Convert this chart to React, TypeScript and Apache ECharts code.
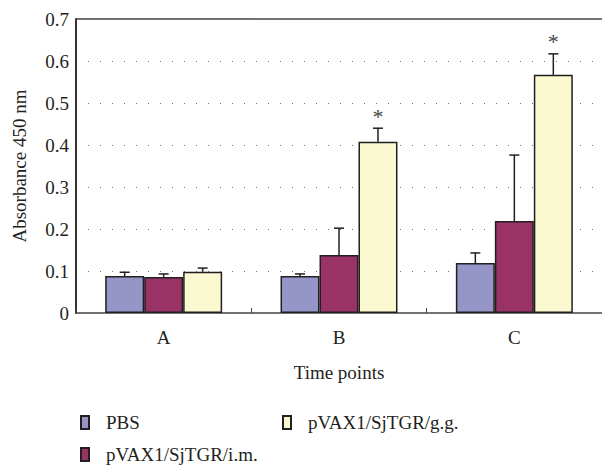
import React, { useEffect, useRef } from "react";
import * as echarts from "echarts";

const categories = ["A", "B", "C"];
const seriesNames = ["PBS", "pVAX1/SjTGR/i.m.", "pVAX1/SjTGR/g.g."];
const pbsValues = [0.088, 0.088, 0.119];
const imValues = [0.086, 0.138, 0.219];
const ggValues = [0.098, 0.408, 0.567];
const pbsErrTop = [0.097, 0.093, 0.143];
const imErrTop = [0.093, 0.202, 0.376];
const ggErrTop = [0.107, 0.44, 0.617];
const ggStars = ["", "*", "*"];
const yTicks = [0, 0.1, 0.2, 0.3, 0.4, 0.5, 0.6, 0.7];

const colors = ["#9595c8", "#993366", "#fbf9d0"];
const FONT = "Liberation Serif";
const INK = "#231f20";
const FS = 19;

export default function App() {
  const ref = useRef<HTMLDivElement>(null);
  useEffect(() => {
    const chart = echarts.init(ref.current!, null, { renderer: "svg" });
    const values = [pbsValues, imValues, ggValues];
    const errs = [pbsErrTop, imErrTop, ggErrTop];
    const gapFrac = 0.333;
    const barSeries = values.map((v, i) => ({
      name: seriesNames[i],
      type: "bar",
      data: v,
      barGap: "0%",
      barCategoryGap: "33.3%",
      itemStyle: { color: colors[i], borderColor: INK, borderWidth: 1.5 },
    }));
    const errSeries = errs.map((e, i) => ({
      type: "custom",
      silent: true,
      z: 5,
      data: e.map((top, k) => [k, values[i][k], top, i === 2 ? ggStars[k] : ""]),
      renderItem: (params: any, api: any) => {
        const k = api.value(0);
        const band = api.size([1, 0])[0];
        const bw = (band * (1 - gapFrac)) / 3;
        const base = api.coord([k, api.value(1)]);
        const topPt = api.coord([k, api.value(2)]);
        const x = base[0] + (i - 1) * bw;
        const children: any[] = [
          { type: "line", shape: { x1: x, y1: base[1], x2: x, y2: topPt[1] }, style: { stroke: INK, lineWidth: 1.5 } },
          { type: "line", shape: { x1: x - 5, y1: topPt[1], x2: x + 5, y2: topPt[1] }, style: { stroke: INK, lineWidth: 1.5 } },
        ];
        const star = api.value(3);
        if (star) {
          children.push({
            type: "text",
            style: { text: star, x, y: topPt[1] - 1, textAlign: "center", textVerticalAlign: "bottom", fontFamily: FONT, fontSize: 22, fill: "#444" },
          });
        }
        return { type: "group", children };
      },
    }));
    const legendItem = (name: string, left: number, top: number) => ({
      show: true,
      data: [name],
      left,
      top,
      padding: 0,
      orient: "horizontal",
      itemWidth: 8,
      itemHeight: 13,
      icon: "rect",
      selectedMode: false,
      textStyle: { fontFamily: FONT, fontSize: FS, color: INK, padding: [0, 0, 0, 12] },
    });
    chart.setOption({
      animation: false,
      color: colors,
      grid: { left: 76, top: 19, bottom: 153, right: -5 },
      legend: [
        legendItem("PBS", 80, 413),
        legendItem("pVAX1/SjTGR/g.g.", 282, 413),
        legendItem("pVAX1/SjTGR/i.m.", 80, 445),
      ],
      xAxis: [
        {
          type: "category",
          data: categories,
          name: "Time points",
          nameLocation: "middle",
          nameGap: 50,
          nameTextStyle: { fontFamily: FONT, fontSize: FS, color: INK },
          axisLine: { lineStyle: { color: "#444", width: 1.5 } },
          axisTick: { show: true, inside: true, length: 5, lineStyle: { color: "#444" } },
          axisLabel: { fontFamily: FONT, fontSize: FS, color: INK, margin: 15 },
        },
        {
          type: "category",
          data: categories,
          position: "top",
          axisLine: { lineStyle: { color: "#444", width: 1.5 } },
          axisTick: { show: false },
          axisLabel: { show: false },
        },
      ],
      yAxis: {
        type: "value",
        min: 0,
        max: 0.7,
        interval: 0.1,
        name: "Absorbance 450 nm",
        nameLocation: "middle",
        nameGap: 47,
        nameTextStyle: { fontFamily: FONT, fontSize: FS, color: INK },
        axisLine: { show: true, lineStyle: { color: "#333", width: 2 } },
        axisTick: { show: false },
        axisLabel: {
          fontFamily: FONT,
          fontSize: FS,
          color: INK,
          margin: 7,
          formatter: (v: number) => {
            const t = yTicks.find((y) => Math.abs(y - v) < 1e-6);
            return t === undefined ? "" : String(t);
          },
        },
        splitLine: {
          show: true,
          lineStyle: { color: "#777", type: [1, 11], width: 1.2 },
          showMinLine: false,
          showMaxLine: false,
        },
      },
      series: [...barSeries, ...errSeries],
    });
    return () => chart.dispose();
  }, []);
  return <div ref={ref} style={{ width: 602, height: 466, position: "absolute", left: 0, top: 0 }} />;
}
